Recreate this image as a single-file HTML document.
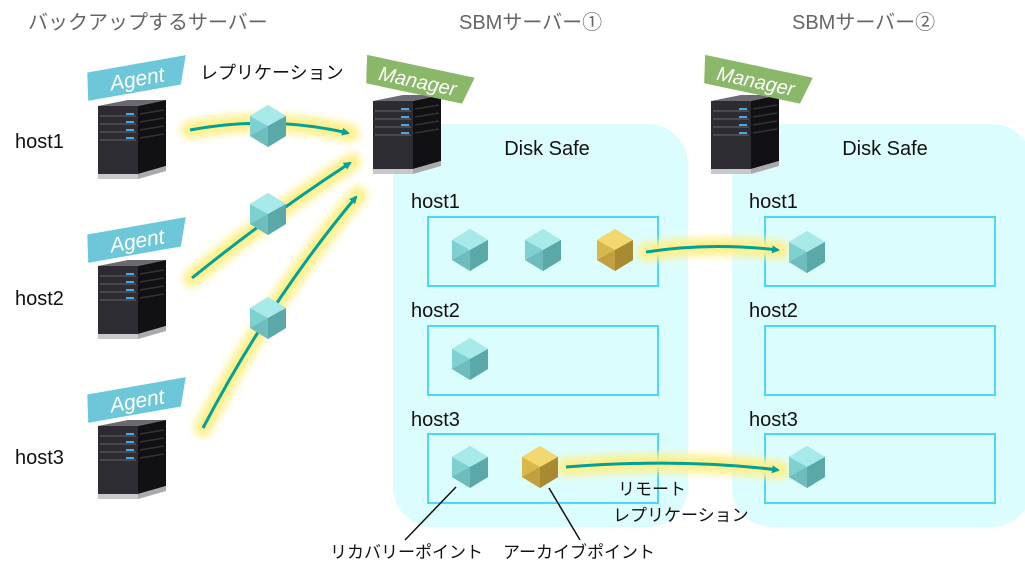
<!DOCTYPE html>
<html><head><meta charset="utf-8"><style>
body{margin:0;background:#fff;}
svg{display:block;font-family:"Liberation Sans","Noto Sans CJK JP",sans-serif;}
</style></head><body>
<svg width="1025" height="580" viewBox="0 0 1025 580" xmlns="http://www.w3.org/2000/svg">
<defs>
<filter id="glow" x="-20%" y="-50%" width="140%" height="200%"><feGaussianBlur stdDeviation="4"/></filter>
<g id="srv">
 <polygon points="0,6 30,0 68,0 40,6" fill="#6a6a70"/>
 <rect x="0" y="6" width="40" height="68" fill="#2c2c32"/>
 <polygon points="40,6 68,0 68,66 40,74" fill="#111114"/>
 <g stroke="#555" stroke-width="1.5"><line x1="2" y1="16" x2="38" y2="16"/><line x1="2" y1="24" x2="38" y2="24"/><line x1="2" y1="32" x2="38" y2="32"/><line x1="2" y1="40" x2="38" y2="40"/></g>
 <g stroke="#333" stroke-width="1.5"><line x1="42" y1="14" x2="66" y2="10"/><line x1="42" y1="22" x2="66" y2="18"/><line x1="42" y1="30" x2="66" y2="26"/><line x1="42" y1="38" x2="66" y2="34"/></g>
 <g fill="#4aa8e8"><rect x="28" y="13" width="8" height="2"/><rect x="28" y="21" width="8" height="2"/><rect x="28" y="29" width="8" height="2"/><rect x="28" y="37" width="8" height="2"/></g>
 <rect x="0" y="74" width="40" height="5" fill="#c8c8c8"/>
 <polygon points="40,74 68,66 68,71 40,79" fill="#aaa"/>
</g>
<g id="cb">
 <polygon points="0,-21 18,-10 18,10 0,21 -18,10 -18,-10" fill="#7fd0d0"/>
 <polygon points="0,-21 18,-10 0,0 -18,-10" fill="#a8eaea"/>
 <polygon points="0,0 18,-10 18,10 0,21" fill="#5aa8a8"/>
 <polygon points="0,0 -18,10 0,21" fill="#6fbcbc"/>
</g>
<g id="cg">
 <polygon points="0,-21 18,-10 18,10 0,21 -18,10 -18,-10" fill="#d8b84a"/>
 <polygon points="0,-21 18,-10 0,0 -18,-10" fill="#f3d870"/>
 <polygon points="0,0 18,-10 18,10 0,21" fill="#a88a30"/>
 <polygon points="0,0 -18,10 0,21" fill="#c0a040"/>
</g>
<marker id="ar" markerWidth="8" markerHeight="8" refX="6" refY="4" orient="auto" markerUnits="userSpaceOnUse"><polygon points="0,0 8,4 0,8" fill="#00a19a"/></marker>
</defs>

<text x="28" y="29" font-size="20" fill="#666">バックアップするサーバー</text>
<text x="459" y="29" font-size="20" fill="#666">SBMサーバー①</text>
<text x="792" y="29" font-size="20" fill="#666">SBMサーバー②</text>

<rect x="393" y="124" width="295" height="403" rx="40" fill="#dcfdfd"/>
<rect x="732" y="124" width="300" height="403" rx="40" fill="#dcfdfd"/>
<text x="547" y="155" font-size="20" text-anchor="middle" fill="#111">Disk Safe</text>
<text x="885" y="155" font-size="20" text-anchor="middle" fill="#111">Disk Safe</text>
<g font-size="20" fill="#111">
<text x="411" y="208">host1</text><text x="411" y="317">host2</text><text x="411" y="426">host3</text>
<text x="749" y="208">host1</text><text x="749" y="317">host2</text><text x="749" y="426">host3</text>
<text x="15" y="148">host1</text><text x="15" y="305">host2</text><text x="15" y="464">host3</text>
</g>
<g fill="none" stroke="#4cd8f4" stroke-width="2">
<rect x="428" y="217" width="230" height="69"/><rect x="428" y="326" width="230" height="69"/><rect x="428" y="434" width="230" height="69"/>
<rect x="765" y="217" width="230" height="69"/><rect x="765" y="326" width="230" height="69"/><rect x="765" y="434" width="230" height="69"/>
</g>

<use href="#srv" x="98" y="100"/><use href="#srv" x="98" y="260"/><use href="#srv" x="98" y="420"/>
<use href="#srv" x="373" y="95"/><use href="#srv" x="711" y="95"/>
<g>
<g transform="translate(137,78) rotate(-10)"><polygon points="-48,-14 52,-14 42,14 -52,14" fill="#6cc8d8"/><text x="0" y="8" font-size="21" font-style="italic" fill="#fff" text-anchor="middle">Agent</text></g>
<g transform="translate(137,240) rotate(-10)"><polygon points="-48,-14 52,-14 42,14 -52,14" fill="#6cc8d8"/><text x="0" y="8" font-size="21" font-style="italic" fill="#fff" text-anchor="middle">Agent</text></g>
<g transform="translate(137,400) rotate(-10)"><polygon points="-48,-14 52,-14 42,14 -52,14" fill="#6cc8d8"/><text x="0" y="8" font-size="21" font-style="italic" fill="#fff" text-anchor="middle">Agent</text></g>
<g transform="translate(418,80) rotate(12)"><polygon points="-55,-14 55,-14 48,14 -50,14" fill="#8ab868"/><text x="0" y="8" font-size="20" font-style="italic" fill="#fff" text-anchor="middle">Manager</text></g>
<g transform="translate(756,80) rotate(12)"><polygon points="-55,-14 55,-14 48,14 -50,14" fill="#8ab868"/><text x="0" y="8" font-size="20" font-style="italic" fill="#fff" text-anchor="middle">Manager</text></g>
</g>

<g fill="none" stroke="#fff08a" stroke-width="18" stroke-linecap="round" filter="url(#glow)">
<path d="M190,130 Q270,115 350,133"/>
<path d="M192,278 Q270,215 352,162"/>
<path d="M203,428 Q270,300 358,195"/>
<path d="M646,252 Q710,242 780,250"/>
<path d="M566,467 Q680,458 780,470"/>
</g>
<g fill="none" stroke="#00a19a" stroke-width="3" marker-end="url(#ar)">
<path d="M190,130 Q270,115 348,133"/>
<path d="M192,278 Q270,215 350,163"/>
<path d="M203,428 Q270,300 356,197"/>
<path d="M646,252 Q710,242 778,250"/>
<path d="M566,467 Q680,458 778,470"/>
</g>
<text x="200" y="79" font-size="18" fill="#111">レプリケーション</text>

<use href="#cb" x="268" y="126"/><use href="#cb" x="268" y="214"/><use href="#cb" x="268" y="318"/>
<use href="#cb" x="470" y="250"/><use href="#cb" x="543" y="250"/><use href="#cg" x="615" y="250"/>
<use href="#cb" x="470" y="359"/>
<use href="#cb" x="470" y="467"/><use href="#cg" x="540" y="467"/>
<use href="#cb" x="807" y="252"/><use href="#cb" x="807" y="467"/>

<g stroke="#111" stroke-width="1.5"><line x1="405" y1="540" x2="456" y2="487"/><line x1="580" y1="540" x2="549" y2="488"/></g>
<g font-size="17" fill="#111">
<text x="330" y="558">リカバリーポイント</text>
<text x="503" y="558">アーカイブポイント</text>
<text x="618" y="495">リモート</text>
<text x="613" y="521">レプリケーション</text>
</g>
</svg>
</body></html>
